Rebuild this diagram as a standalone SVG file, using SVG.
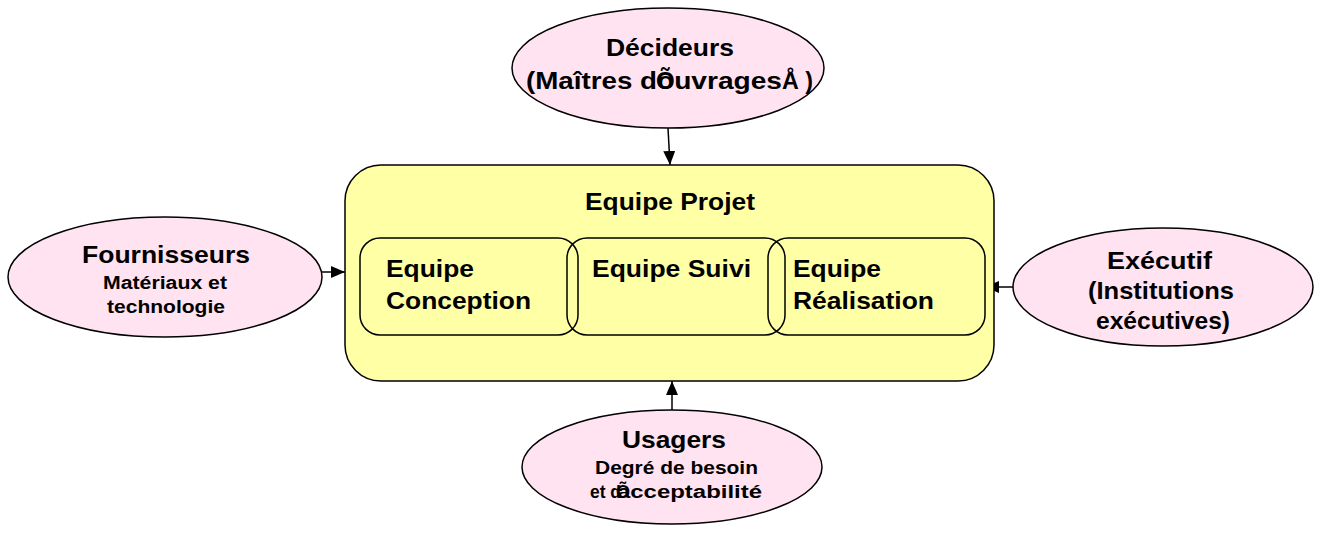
<svg xmlns="http://www.w3.org/2000/svg" width="1320" height="536" viewBox="0 0 1320 536">
<style>
.ell{fill:#ffe3f0;stroke:#000;stroke-width:1.5}
.box{fill:#ffffa6;stroke:#000;stroke-width:1.5}
.in{fill:none;stroke:#000;stroke-width:1.5}
.t{font-family:"Liberation Sans",Arial,sans-serif;font-weight:bold;fill:#000}
.b{font-size:24px}
.s{font-size:18px}
.ln{stroke:#000;stroke-width:1.5;fill:none}
</style>
<defs>
<marker id="ah" viewBox="0 0 14 12" refX="14" refY="6" markerWidth="14" markerHeight="12" orient="auto" markerUnits="userSpaceOnUse">
<path d="M0,0 L14,6 L0,12 z" fill="#000"/>
</marker>
</defs>
<rect width="1320" height="536" fill="#fff"/>
<g id="connectors">
<line class="ln" x1="668" y1="128" x2="670" y2="165" marker-end="url(#ah)"/>
<line class="ln" x1="322" y1="272" x2="345" y2="272" marker-end="url(#ah)"/>
<line class="ln" x1="1014" y1="287" x2="985" y2="287" marker-end="url(#ah)"/>
<line class="ln" x1="672" y1="410" x2="672" y2="381" marker-end="url(#ah)"/>
</g>
<g id="projet">
<rect class="box" x="345" y="165" width="649" height="216" rx="36" ry="36"/>
<text class="t b" x="585" y="210" textLength="170" lengthAdjust="spacingAndGlyphs">Equipe Projet</text>
</g>
<g id="conception">
<rect class="in" x="360" y="238" width="218" height="97" rx="20" ry="20"/>
<text class="t b" x="386" y="277" textLength="88" lengthAdjust="spacingAndGlyphs">Equipe</text>
<text class="t b" x="386" y="309" textLength="145" lengthAdjust="spacingAndGlyphs">Conception</text>
</g>
<g id="suivi">
<rect class="in" x="567" y="238" width="218" height="97" rx="20" ry="20"/>
<text class="t b" x="592" y="277" textLength="159" lengthAdjust="spacingAndGlyphs">Equipe Suivi</text>
</g>
<g id="realisation">
<rect class="in" x="768" y="238" width="217" height="97" rx="20" ry="20"/>
<text class="t b" x="793" y="277" textLength="88" lengthAdjust="spacingAndGlyphs">Equipe</text>
<text class="t b" x="793" y="309" textLength="141" lengthAdjust="spacingAndGlyphs">Réalisation</text>
</g>
<g id="decideurs">
<ellipse class="ell" cx="668" cy="68" rx="156" ry="60"/>
<text class="t b" x="606" y="56" textLength="128" lengthAdjust="spacingAndGlyphs">Décideurs</text>
<text class="t b" y="89"><tspan x="526" textLength="131" lengthAdjust="spacingAndGlyphs">(Maîtres d</tspan><tspan x="656">Õ</tspan><tspan x="657" textLength="125" lengthAdjust="spacingAndGlyphs">ouvrages</tspan><tspan x="782" textLength="31" lengthAdjust="spacingAndGlyphs">Å )</tspan></text>
</g>
<g id="fournisseurs">
<ellipse class="ell" cx="165" cy="277" rx="157" ry="60"/>
<text class="t b" x="82" y="263" textLength="168" lengthAdjust="spacingAndGlyphs">Fournisseurs</text>
<text class="t s" x="103" y="289" textLength="124" lengthAdjust="spacingAndGlyphs">Matériaux et</text>
<text class="t s" x="107" y="313" textLength="118" lengthAdjust="spacingAndGlyphs">technologie</text>
</g>
<g id="executif">
<ellipse class="ell" cx="1163" cy="287" rx="150" ry="59"/>
<text class="t b" x="1107" y="269" textLength="105" lengthAdjust="spacingAndGlyphs">Exécutif</text>
<text class="t b" x="1088" y="299" textLength="146" lengthAdjust="spacingAndGlyphs">(Institutions</text>
<text class="t b" x="1096" y="329" textLength="134" lengthAdjust="spacingAndGlyphs">exécutives)</text>
</g>
<g id="usagers">
<ellipse class="ell" cx="672" cy="467" rx="150" ry="57"/>
<text class="t b" x="622" y="448" textLength="104" lengthAdjust="spacingAndGlyphs">Usagers</text>
<text class="t s" x="595" y="474" textLength="163" lengthAdjust="spacingAndGlyphs">Degré de besoin</text>
<text class="t s" y="498"><tspan x="590" textLength="31" lengthAdjust="spacingAndGlyphs">et d</tspan><tspan x="616">Õ</tspan><tspan x="617" textLength="145" lengthAdjust="spacingAndGlyphs">acceptabilité</tspan></text>
</g>
</svg>
